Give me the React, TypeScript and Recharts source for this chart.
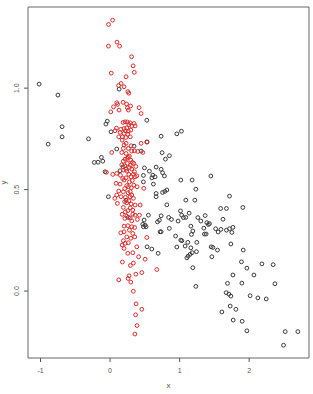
import { ScatterChart, Scatter, XAxis, YAxis, ReferenceArea } from 'recharts'

// values, as [x, y]
const blackPoints: [number, number][] = [
  [-1.02, 1.02], [-0.75, 0.966], [-0.69, 0.81], [-0.69, 0.76], [-0.89, 0.724], [-0.31, 0.75],
  [-0.06, 0.823], [-0.04, 0.837], [-0.125, 0.659], [-0.226, 0.634], [-0.173, 0.635], [-0.105, 0.64],
  [0.13, 0.995], [0.528, 0.842], [0.014, 0.785], [0.345, 0.714], [0.532, 0.735], [0.446, 0.69],
  [0.096, 0.7], [-0.072, 0.588], [0.144, 0.593], [0.187, 0.612], [0.494, 0.607], [0.565, 0.591],
  [0.662, 0.611], [0.479, 0.57], [0.614, 0.571], [-0.024, 0.465], [0.6, 0.558], [0.623, 0.527],
  [0.479, 0.538], [0.263, 0.363], [0.551, 0.374], [0.504, 0.325], [0.479, 0.317], [0.681, 0.341],
  [0.532, 0.218], [0.6, 0.207], [0.691, 0.186], [0.23, 0.448], [0.489, 0.35], [0.47, 0.329],
  [0.518, 0.317], [0.719, 0.292], [0.734, 0.763], [0.96, 0.775], [1.026, 0.788], [0.748, 0.682],
  [0.796, 0.65], [0.853, 0.667], [0.734, 0.6], [0.755, 0.583], [0.781, 0.567], [0.647, 0.563],
  [1.017, 0.547], [1.18, 0.547], [1.449, 0.567], [1.233, 0.502], [1.717, 0.468], [0.662, 0.481],
  [0.662, 0.465], [0.755, 0.486], [0.787, 0.491], [0.816, 0.498], [0.816, 0.425], [1.089, 0.448],
  [1.219, 0.448], [1.59, 0.407], [1.673, 0.407], [1.909, 0.412], [1.012, 0.395], [1.137, 0.384],
  [1.029, 0.374], [1.089, 0.363], [1.055, 0.362], [1.262, 0.362], [1.367, 0.372], [0.734, 0.371],
  [0.842, 0.363], [0.882, 0.353], [0.709, 0.349], [0.978, 0.345], [1.305, 0.345], [1.391, 0.337],
  [1.623, 0.354], [1.766, 0.314], [0.852, 0.309], [1.161, 0.32], [1.429, 0.332], [1.413, 0.328],
  [1.348, 0.31], [1.518, 0.307], [1.717, 0.307], [1.594, 0.304], [1.554, 0.291], [1.751, 0.289],
  [1.673, 0.3], [0.734, 0.292], [1.19, 0.296], [1.17, 0.279], [0.942, 0.271], [1.357, 0.281],
  [1.381, 0.281], [1.017, 0.251], [1.032, 0.248], [1.118, 0.24], [1.247, 0.24], [0.96, 0.217],
  [1.079, 0.222], [1.161, 0.213], [1.242, 0.194], [1.453, 0.218], [1.478, 0.215], [1.544, 0.202],
  [1.737, 0.232], [1.914, 0.202], [1.104, 0.164], [1.122, 0.172], [1.151, 0.181], [1.18, 0.189],
  [1.463, 0.169], [1.19, 0.115], [1.233, 0.023], [1.889, 0.144], [1.967, 0.113], [2.183, 0.134],
  [2.345, 0.13], [1.766, 0.079], [1.688, 0.038], [1.895, 0.039], [2.068, 0.079], [2.37, 0.036],
  [1.669, -0.008], [1.708, -0.015], [1.737, -0.025], [2.014, -0.023], [2.125, -0.034], [2.245, -0.039],
  [1.727, -0.074], [1.809, -0.09], [1.607, -0.103], [1.77, -0.143], [1.899, -0.149], [1.967, -0.196],
  [2.518, -0.2], [2.7, -0.2], [2.494, -0.267],
]

const redPoints: [number, number][] = [
  [0.036, 1.335], [-0.022, 1.314], [0.1, 1.227], [0.137, 1.207], [-0.024, 1.207], [0.309, 1.155],
  [0.331, 1.11], [0.348, 1.078], [0.017, 1.074], [0.23, 1.056], [0.158, 1.023], [0.122, 1.013],
  [0.201, 1.007], [0.255, 0.983], [0.269, 0.975], [0.096, 0.928], [0.187, 0.93], [0.237, 0.922],
  [0.108, 0.92], [0.05, 0.908], [0.295, 0.912], [0.249, 0.903], [0.417, 0.904], [0.446, 0.875],
  [0.01, 0.883], [0.129, 0.892], [0.263, 0.892], [0.187, 0.831], [0.216, 0.834], [0.249, 0.833],
  [0.288, 0.829], [0.345, 0.826], [0.36, 0.814], [0.312, 0.813], [0.24, 0.804], [0.201, 0.801],
  [0.154, 0.797], [0.091, 0.803], [0.072, 0.79], [0.263, 0.788], [0.298, 0.793], [0.144, 0.782],
  [0.201, 0.777], [0.255, 0.773], [0.125, 0.76], [0.177, 0.76], [0.226, 0.757], [0.173, 0.744],
  [0.23, 0.728], [0.446, 0.728], [0.528, 0.734], [0.302, 0.716], [0.263, 0.703], [0.191, 0.703],
  [0.35, 0.691], [0.168, 0.683], [0.024, 0.683], [0.399, 0.688], [0.23, 0.678], [0.278, 0.665],
  [0.47, 0.683], [0.245, 0.654], [0.216, 0.65], [0.298, 0.645], [0.321, 0.634], [0.249, 0.629],
  [0.341, 0.629], [0.168, 0.622], [0.212, 0.617], [0.37, 0.614], [0.278, 0.609], [0.312, 0.601],
  [0.191, 0.596], [0.24, 0.591], [0.35, 0.588], [-0.053, 0.585], [0.039, 0.575], [0.096, 0.58],
  [0.335, 0.576], [0.384, 0.568], [0.148, 0.571], [0.302, 0.563], [0.23, 0.558], [0.36, 0.563],
  [0.201, 0.547], [0.278, 0.538], [0.086, 0.531], [0.144, 0.527], [0.341, 0.522], [0.263, 0.514],
  [0.306, 0.509], [0.388, 0.514], [0.485, 0.506], [0.125, 0.493], [0.191, 0.489], [0.259, 0.484],
  [0.096, 0.473], [0.312, 0.473], [0.158, 0.465], [0.22, 0.462], [0.068, 0.457], [0.288, 0.465],
  [0.335, 0.457], [0.105, 0.432], [0.24, 0.435], [0.302, 0.429], [0.36, 0.424], [0.432, 0.424],
  [0.191, 0.412], [0.255, 0.396], [0.327, 0.399], [0.173, 0.378], [0.24, 0.369], [0.327, 0.379],
  [0.36, 0.374], [0.422, 0.374], [0.393, 0.353], [0.212, 0.358], [0.312, 0.346], [0.201, 0.32],
  [0.255, 0.322], [0.312, 0.317], [0.353, 0.313], [0.154, 0.287], [0.201, 0.292], [0.278, 0.3],
  [0.327, 0.284], [0.24, 0.267], [0.298, 0.26], [0.355, 0.267], [0.528, 0.264], [0.191, 0.248],
  [0.263, 0.238], [0.173, 0.227], [0.216, 0.235], [0.384, 0.218], [0.201, 0.21], [0.255, 0.186],
  [0.327, 0.189], [0.41, 0.169], [0.504, 0.157], [0.177, 0.143], [0.292, 0.126], [0.335, 0.138],
  [0.672, 0.106], [0.456, 0.091], [0.37, 0.083], [0.273, 0.075], [0.259, 0.062], [0.125, 0.055],
  [0.298, 0.044], [0.334, -0.001], [0.374, -0.063], [0.456, -0.09], [0.367, -0.117], [0.388, -0.17],
  [0.357, -0.212],
  // extra points in the dense part of the red band
  [0.27, 0.82], [0.22, 0.79], [0.29, 0.76], [0.2, 0.72], [0.31, 0.69], [0.26, 0.66], [0.19, 0.64],
  [0.29, 0.62], [0.23, 0.6], [0.27, 0.575], [0.18, 0.555], [0.32, 0.545], [0.24, 0.52], [0.21, 0.505],
  [0.29, 0.49], [0.27, 0.445], [0.21, 0.44], [0.29, 0.41], [0.22, 0.39], [0.29, 0.36],
]

const xTicks = [-1, 0, 1, 2]
const yTicks = [0, 0.5, 1]
const xDomain: [number, number] = [-1.18, 2.86]
const yDomain: [number, number] = [-0.33, 1.4]

const blackData = blackPoints.map(([x, y]) => ({ x, y }))
const redData = redPoints.map(([x, y]) => ({ x, y }))

const FONT = '"Liberation Sans", Arial, sans-serif'
const TEXT = '#555'

const ring = (color: string) => (props: any) => (
  <circle cx={props.cx} cy={props.cy} r={1.9} fill="none" stroke={color} strokeWidth={1} />
)

const YTick = (props: any) => {
  const { x, y, payload } = props
  const cx = x - 3
  return (
    <text
      x={cx}
      y={y}
      transform={`rotate(-90 ${cx} ${y})`}
      textAnchor="middle"
      dominantBaseline="central"
      fontSize={7}
      fontFamily={FONT}
      fill={TEXT}
    >
      {payload.value.toFixed(1)}
    </text>
  )
}

const XTick = (props: any) => {
  const { x, y, payload } = props
  return (
    <text x={x} y={y} textAnchor="middle" dominantBaseline="central" fontSize={7} fontFamily={FONT} fill={TEXT}>
      {String(payload.value)}
    </text>
  )
}

const XLabel = (props: any) => {
  const { x, y, width } = props.viewBox
  return (
    <text x={x + width / 2} y={y + 27} textAnchor="middle" dominantBaseline="central" fontSize={8} fontFamily={FONT} fill={TEXT}>
      x
    </text>
  )
}

const YLabel = (props: any) => {
  const { x, y, height } = props.viewBox
  const cx = x + 3
  const cy = y + height / 2
  return (
    <text
      x={cx}
      y={cy}
      transform={`rotate(-90 ${cx} ${cy})`}
      textAnchor="middle"
      dominantBaseline="central"
      fontSize={8}
      fontFamily={FONT}
      fill={TEXT}
    >
      y
    </text>
  )
}

export default function App() {
  return (
    <div style={{ position: 'absolute', left: 0, top: 0, background: '#fff' }}>
      <ScatterChart width={313} height={394} margin={{ top: 7, right: 4, bottom: 0, left: 0 }}>
        <XAxis
          type="number"
          dataKey="x"
          domain={xDomain}
          allowDataOverflow
          ticks={xTicks}
          axisLine={false}
          tickLine={{ stroke: '#555' }}
          tickSize={4}
          tickMargin={8}
          height={36}
          tick={<XTick />}
          label={<XLabel />}
        />
        <YAxis
          type="number"
          dataKey="y"
          domain={yDomain}
          allowDataOverflow
          ticks={yTicks}
          axisLine={false}
          tickLine={{ stroke: '#555' }}
          tickSize={4}
          tickMargin={4}
          width={28}
          tick={<YTick />}
          label={<YLabel />}
        />
        <ReferenceArea
          x1={xDomain[0]}
          x2={xDomain[1]}
          y1={yDomain[0]}
          y2={yDomain[1]}
          fill="none"
          stroke="#666"
          strokeWidth={1}
          ifOverflow="visible"
        />
        <Scatter data={blackData} shape={ring('#3a3a3a')} isAnimationActive={false} />
        <Scatter data={redData} shape={ring('#e02a2a')} isAnimationActive={false} />
      </ScatterChart>
    </div>
  )
}
